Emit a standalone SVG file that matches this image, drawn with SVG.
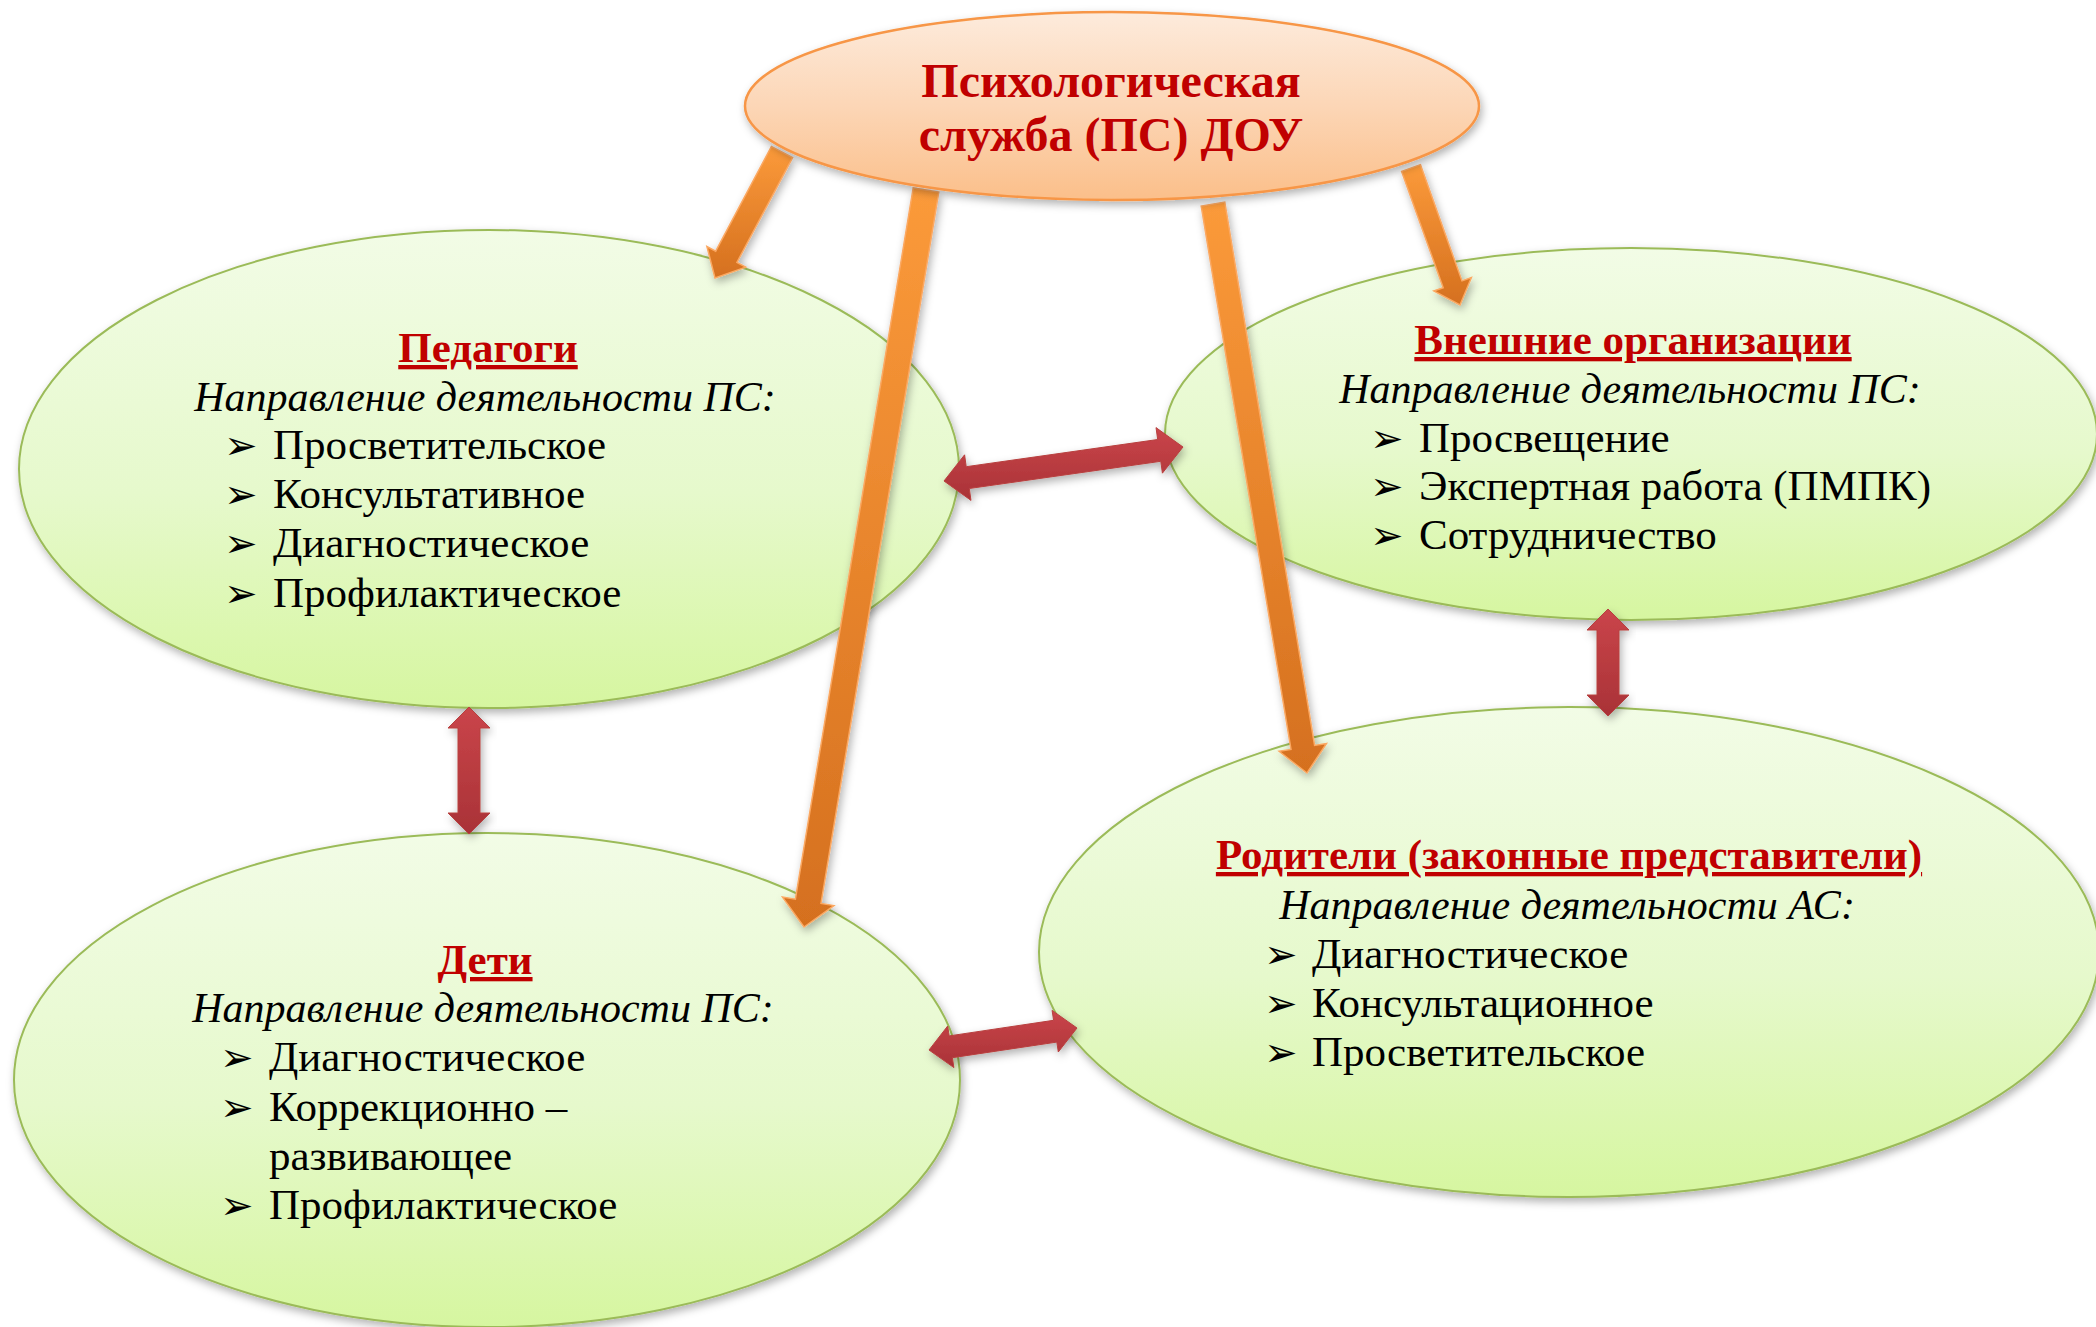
<svg xmlns="http://www.w3.org/2000/svg" width="2096" height="1327" viewBox="0 0 2096 1327">
<defs>
<linearGradient id="gGreen" x1="0" y1="0" x2="0" y2="1">
<stop offset="0" stop-color="#F2FCE6"/>
<stop offset="0.55" stop-color="#E6F9CC"/>
<stop offset="1" stop-color="#D6F6A0"/>
</linearGradient>
<linearGradient id="gPeach" x1="0" y1="0" x2="0" y2="1">
<stop offset="0" stop-color="#FDEBDC"/>
<stop offset="0.5" stop-color="#FCD6B6"/>
<stop offset="1" stop-color="#FBBF8A"/>
</linearGradient>
<linearGradient id="gOrange" x1="0" y1="0" x2="0" y2="1">
<stop offset="0" stop-color="#FB9A3A"/>
<stop offset="1" stop-color="#D5701F"/>
</linearGradient>
<linearGradient id="gRed" x1="0" y1="0" x2="0" y2="1">
<stop offset="0" stop-color="#CA454A"/>
<stop offset="1" stop-color="#A93237"/>
</linearGradient>
<filter id="shadow" x="-10%" y="-10%" width="125%" height="130%">
<feDropShadow dx="2" dy="4" stdDeviation="4" flood-color="#000" flood-opacity="0.3"/>
</filter>
</defs>
<style>
.green{fill:url(#gGreen);stroke:#9BBB59;stroke-width:2;filter:url(#shadow)}
.peach{fill:url(#gPeach);stroke:#F79646;stroke-width:2.5;filter:url(#shadow)}
.oarrow{fill:url(#gOrange);stroke:#FBA862;stroke-width:1.5;filter:url(#shadow)}
.rarrow{fill:url(#gRed);stroke:#B8403F;stroke-width:1;filter:url(#shadow)}
text{font-family:"Liberation Serif","Times New Roman",serif;fill:#000}
.title{font-size:48px;font-weight:bold;fill:#C00000;text-anchor:middle}
.head{font-size:43px;font-weight:bold;fill:#C00000;text-anchor:middle;text-decoration:underline}
.sub{font-size:42px;font-style:italic;text-anchor:middle}
.item{font-size:43px}
.bul{font-family:"DejaVu Sans",sans-serif;font-size:40px}
</style>

<g id="node-pedagogi">
<ellipse class="green" cx="489" cy="469" rx="470" ry="239"/>
<text class="head" x="488" y="362">Педагоги</text>
<text class="sub" x="485" y="411">Направление деятельности ПС:</text>
<text class="bul" x="224" y="459">➢</text><text class="item" x="273" y="459">Просветительское</text>
<text class="bul" x="224" y="508">➢</text><text class="item" x="273" y="508">Консультативное</text>
<text class="bul" x="224" y="557">➢</text><text class="item" x="273" y="557">Диагностическое</text>
<text class="bul" x="224" y="607">➢</text><text class="item" x="273" y="607">Профилактическое</text>
</g>

<g id="node-vneshnie">
<ellipse class="green" cx="1631" cy="434" rx="466" ry="186"/>
<text class="head" x="1633" y="354">Внешние организации</text>
<text class="sub" x="1630" y="403">Направление деятельности ПС:</text>
<text class="bul" x="1370" y="452">➢</text><text class="item" x="1419" y="452">Просвещение</text>
<text class="bul" x="1370" y="500">➢</text><text class="item" x="1419" y="500">Экспертная работа (ПМПК)</text>
<text class="bul" x="1370" y="549">➢</text><text class="item" x="1419" y="549">Сотрудничество</text>
</g>

<g id="node-deti">
<ellipse class="green" cx="487" cy="1080" rx="473" ry="247"/>
<text class="head" x="485" y="974">Дети</text>
<text class="sub" x="483" y="1022">Направление деятельности ПС:</text>
<text class="bul" x="220" y="1071">➢</text><text class="item" x="269" y="1071">Диагностическое</text>
<text class="bul" x="220" y="1121">➢</text><text class="item" x="269" y="1121">Коррекционно –</text>
<text class="item" x="269" y="1170">развивающее</text>
<text class="bul" x="220" y="1219">➢</text><text class="item" x="269" y="1219">Профилактическое</text>
</g>

<g id="node-roditeli">
<ellipse class="green" cx="1569" cy="952" rx="530" ry="245"/>
<text class="head" x="1569" y="869">Родители (законные представители)</text>
<text class="sub" x="1567" y="919">Направление деятельности АС:</text>
<text class="bul" x="1264" y="968">➢</text><text class="item" x="1312" y="968">Диагностическое</text>
<text class="bul" x="1264" y="1017">➢</text><text class="item" x="1312" y="1017">Консультационное</text>
<text class="bul" x="1264" y="1066">➢</text><text class="item" x="1312" y="1066">Просветительское</text>
</g>

<g id="connectors">
<polygon class="oarrow" points="792.6,157.6 736.9,262.4 745.7,267.1 715,278 706.9,246.5 715.7,251.2 771.4,146.4"/>
<polygon class="oarrow" points="938.8,192.1 821.0,903.4 833.9,905.6 804,927 782.5,897.1 795.4,899.2 913.2,187.9"/>
<polygon class="oarrow" points="1224.8,202.0 1314.6,745.4 1326.5,743.5 1307,773 1279.1,751.3 1291.0,749.4 1201.2,206.0"/>
<polygon class="oarrow" points="1420.4,164.6 1462.0,280.9 1471.4,277.6 1460,305 1433.8,291.0 1443.2,287.7 1401.6,171.4"/>
<polygon class="rarrow" points="944,481 971.0,500.4 969.3,488.5 1160.8,461.3 1162.4,473.2 1183,447 1156.0,427.6 1157.7,439.5 966.2,466.7 964.6,454.8"/>
<polygon class="rarrow" points="469,707 490,728 480,728 480,813 490,813 469,834 448,813 458,813 458,728 448,728"/>
<polygon class="rarrow" points="1608,609 1629,630 1619,630 1619,695 1629,695 1608,716 1587,695 1597,695 1597,630 1587,630"/>
<polygon class="rarrow" points="929,1050 953.9,1067.6 952.4,1057.7 1056.8,1042.1 1058.3,1052.0 1077,1028 1052.1,1010.4 1053.6,1020.3 949.2,1035.9 947.7,1026.0"/>
</g>

<g id="node-ps">
<ellipse class="peach" cx="1112" cy="106" rx="367" ry="94"/>
<text class="title" x="1111" y="97">Психологическая</text>
<text class="title" x="1111" y="151">служба (ПС) ДОУ</text>
</g>
</svg>
